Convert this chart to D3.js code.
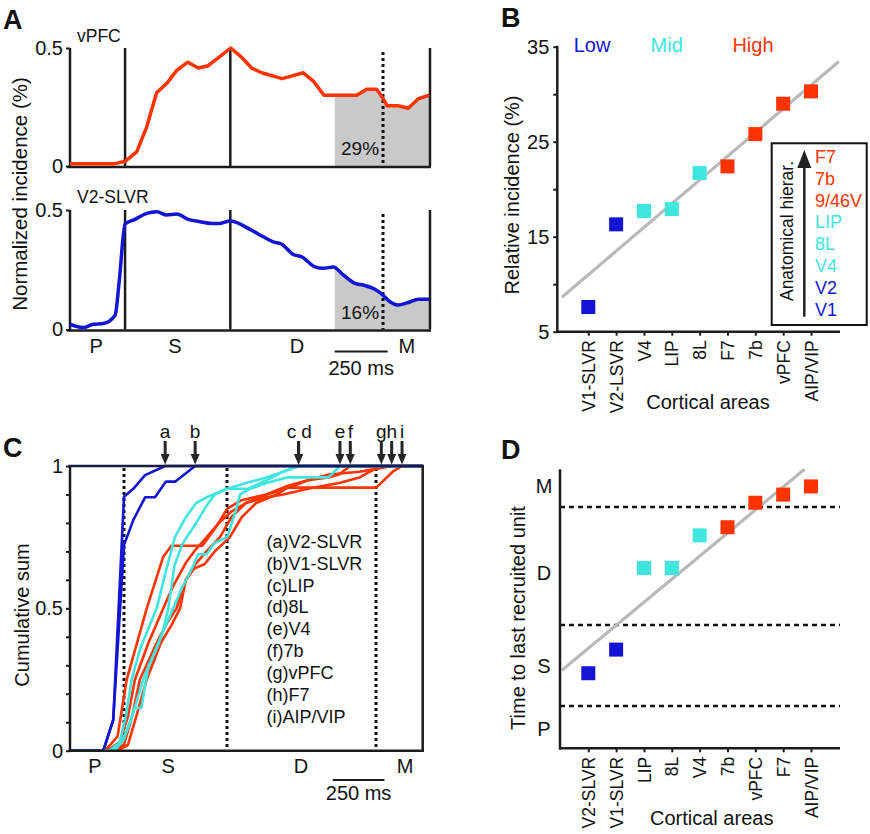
<!DOCTYPE html>
<html><head><meta charset="utf-8">
<script src="https://cdn.jsdelivr.net/npm/d3@7"></script>
<style>
body{margin:0;background:#fff}
svg{display:block}
text{font-family:"Liberation Sans",Arial,Helvetica,sans-serif;fill:#111}
</style></head>
<body><svg id="fig" width="870" height="834"></svg>
<script>
// ---------------- DATA ----------------
const epochNames = ["P","S","D","M"];
const epochBoundaries = [260, 757, 1480];   // ms: sample on, delay on, match on
const trialEnd = 1700;
const lateWindowStart = 1250;

// Panel A
const vpfcTime = [0,213,260,315,362,409,457,504,556,606,653,759,811,858,905,1002,1102,1149,1199,1354,1401,1448,1472,1498,1550,1597,1645,1697];
const vpfcIncidence = [0.01,0.01,0.02,0.06,0.165,0.31,0.35,0.405,0.44,0.415,0.425,0.5,0.46,0.415,0.395,0.37,0.395,0.36,0.3,0.3,0.325,0.325,0.295,0.255,0.255,0.245,0.285,0.3];
const v2Time = [0,63,110,157,213,233,260,307,362,409,457,504,559,614,669,708,756,850,913,960,1000,1054,1094,1157,1196,1243,1291,1346,1385,1440,1472,1511,1550,1597,1645,1697];
const v2Incidence = [0.022,0.008,0.022,0.025,0.06,0.207,0.441,0.461,0.486,0.493,0.479,0.483,0.461,0.451,0.444,0.444,0.454,0.419,0.388,0.367,0.357,0.314,0.304,0.262,0.256,0.262,0.228,0.193,0.186,0.168,0.148,0.116,0.102,0.113,0.127,0.127];
const aPercents = ["29%","16%"];
const aEpochLabelT = [123,496,1072,1591];

// Panel B
const bAreas = ["V1-SLVR","V2-LSVR","V4","LIP","8L","F7","7b","vPFC","AIP/VIP"];
const bGroups = ["low","low","mid","mid","mid","high","high","high","high"];
const bIncidence = [7.6,16.3,17.7,17.9,21.7,22.4,25.8,29.0,30.3];
const bTicks = [5,10,15,20,25,30,35];
const bTickLabels = [5,15,25,35];
const hierAreas = ["F7","7b","9/46V","LIP","8L","V4","V2","V1"];
const hierGroups = ["high","high","high","mid","mid","mid","low","low"];
const groupNames = ["Low","Mid","High"];

// Panel C
const cAreas = ["V2-SLVR","V1-SLVR","LIP","8L","V4","7b","vPFC","F7","AIP/VIP"];
const cLetters = ["a","b","c","d","e","f","g","h","i"];
const cGroups = ["low","low","mid","mid","mid","high","high","high","high"];
const cLastT = [460,605,1105,1105,1305,1355,1505,1555,1605];
const cumV2SLVR = [[0,0],[161,0],[209,0.108],[261,0.892],[306,0.92],[363,0.968],[460,1],[1705,1]];
const cumV1SLVR = [[0,0],[161,0],[209,0.108],[261,0.722],[306,0.81],[363,0.89],[411,0.89],[463,0.945],[508,0.945],[605,1],[1705,1]];
const cumLIP = [[0,0],[190,0],[240,0.03],[270,0.12],[298,0.25],[340,0.36],[419,0.5],[460,0.62],[507,0.75],[560,0.82],[610,0.87],[660,0.89],[693,0.9],[760,0.92],[850,0.94],[950,0.96],[1030,0.98],[1105,1],[1705,1]];
const cum8L = [[0,0],[200,0],[250,0.03],[290,0.1],[311,0.15],[345,0.15],[380,0.3],[420,0.36],[450,0.42],[475,0.5],[505,0.65],[540,0.72],[564,0.75],[610,0.8],[660,0.86],[700,0.9],[757,0.92],[860,0.92],[950,0.95],[1030,0.98],[1105,1],[1705,1]];
const cumV4 = [[0,0],[215,0],[260,0.04],[300,0.12],[354,0.25],[400,0.33],[450,0.42],[499,0.5],[540,0.57],[590,0.64],[620,0.69],[660,0.69],[700,0.73],[760,0.75],[800,0.84],[822,0.9],[870,0.92],[950,0.94],[1050,0.96],[1250,0.96],[1305,1],[1705,1]];
const cum7b = [[0,0],[170,0],[230,0.05],[274,0.25],[371,0.5],[450,0.68],[490,0.72],[640,0.72],[710,0.79],[760,0.85],[830,0.88],[950,0.9],[1000,0.91],[1080,0.93],[1150,0.95],[1250,0.96],[1300,0.97],[1355,1],[1705,1]];
const cumVPFC = [[0,0],[180,0],[240,0.03],[280,0.12],[314,0.25],[380,0.38],[451,0.5],[500,0.58],[560,0.66],[600,0.7],[661,0.75],[720,0.8],[780,0.84],[850,0.87],[950,0.89],[1031,0.9],[1150,0.92],[1300,0.94],[1400,0.96],[1450,0.98],[1505,1],[1705,1]];
const cumF7 = [[0,0],[200,0],[260,0.02],[300,0.12],[338,0.25],[420,0.38],[470,0.45],[515,0.5],[560,0.6],[600,0.65],[660,0.7],[725,0.75],[780,0.82],[850,0.87],[950,0.9],[1050,0.93],[1150,0.95],[1250,0.97],[1400,0.98],[1480,0.99],[1555,1],[1705,1]];
const cumAIPVIP = [[0,0],[230,0],[280,0.02],[320,0.12],[371,0.25],[440,0.38],[490,0.44],[532,0.5],[560,0.6],[600,0.64],[650,0.655],[700,0.7],[773,0.75],[830,0.82],[900,0.87],[1000,0.9],[1050,0.924],[1480,0.924],[1560,0.98],[1605,1],[1705,1]];
const cTicks = [0,0.1,0.2,0.3,0.4,0.5,0.6,0.7,0.8,0.9,1];
const cTickLabels = [0,0.5,1];
const cEpochLabelT = [121,474,1117,1620];

// Panel D
const dAreas = ["V2-SLVR","V1-SLVR","LIP","8L","V4","7b","vPFC","F7","AIP/VIP"];
const dGroups = ["low","low","mid","mid","mid","high","high","high","high"];
const dLastT = [460,605,1105,1105,1305,1355,1505,1555,1605];
const dEpochLabelT = [118,504,1075,1608];

// ---------------- STYLE ----------------
const COL = {low:"#1414d4", mid:"#3ee6de", high:"#ff3300"};
const AX = "#1c1c1c";
const svg = d3.select("#fig");

function panelLetter(t,x,y){
  svg.append("text").attr("x",x).attr("y",y).attr("font-size",27).attr("font-weight","bold").text(t);
}
function styleAxis(g){
  g.select(".domain").remove();
  g.selectAll(".tick line").attr("stroke",AX).attr("stroke-width",2);
  g.selectAll(".tick text").attr("font-size",20).attr("fill","#111");
}
function hline(x1,x2,y,opts={}){
  return svg.append("line").attr("x1",x1).attr("x2",x2).attr("y1",y).attr("y2",y)
    .attr("stroke",opts.c||AX).attr("stroke-width",opts.w||2.5).attr("stroke-dasharray",opts.d||null);
}
function vline(x,y1,y2,opts={}){
  return svg.append("line").attr("x1",x).attr("x2",x).attr("y1",y1).attr("y2",y2)
    .attr("stroke",opts.c||AX).attr("stroke-width",opts.w||2.5).attr("stroke-dasharray",opts.d||null);
}
function regression(vals){
  const n = vals.length, mi = (n-1)/2, mv = d3.mean(vals);
  let sxy=0,sxx=0;
  vals.forEach((v,i)=>{sxy+=(i-mi)*(v-mv); sxx+=(i-mi)*(i-mi);});
  const m = sxy/sxx; return {m, b: mv - m*mi};
}

// ---------------- PANEL A ----------------
panelLetter("A",3,29);
const ax = d3.scaleLinear().domain([0,trialEnd]).range([70,430]);
function drawA(idx, times, vals, yTop, yBot, color, name, nameY, pctY, curve){
  const y = d3.scaleLinear().domain([0,0.5]).range([yBot,yTop]);
  const pts = times.map((t,i)=>[t,vals[i]]);
  const cid = "clipA"+idx;
  svg.append("clipPath").attr("id",cid).append("rect")
    .attr("x",ax(lateWindowStart)).attr("y",yTop-5).attr("width",ax(trialEnd)-ax(lateWindowStart)).attr("height",yBot-yTop+5);
  svg.append("path").datum(pts).attr("clip-path",`url(#${cid})`)
    .attr("d",d3.area().x(d=>ax(d[0])).y0(yBot).y1(d=>y(d[1])).curve(curve))
    .attr("fill","#c9c9c9");
  svg.append("text").attr("x",(ax(lateWindowStart)+ax(epochBoundaries[2]))/2+1).attr("y",pctY)
    .attr("text-anchor","middle").attr("font-size",19).text(aPercents[idx]);
  const g = svg.append("g").attr("transform","translate(70,0)")
    .call(d3.axisLeft(y).tickValues([0,0.5]).tickSize(4).tickPadding(3).tickFormat(d=>d===0?"0":"0.5"));
  styleAxis(g);
  vline(70,yTop,yBot+1);
  hline(67,431,yBot+1);
  vline(ax(epochBoundaries[0]),yTop,yBot);
  vline(ax(epochBoundaries[1]),yTop,yBot);
  vline(ax(trialEnd),yTop,yBot);
  vline(Math.round(ax(epochBoundaries[2])),yTop+4,yBot,{d:"3,3",w:3,c:"#111"});
  svg.append("path").datum(pts)
    .attr("d",d3.line().x(d=>ax(d[0])).y(d=>y(d[1])).curve(curve))
    .attr("fill","none").attr("stroke",color).attr("stroke-width",3.5).attr("stroke-linejoin","round");
  svg.append("text").attr("x",77).attr("y",nameY).attr("font-size",17.5).text(name);
}
drawA(0, vpfcTime, vpfcIncidence, 48, 166, COL.high, "vPFC", 42, 155, d3.curveLinear);
drawA(1, v2Time, v2Incidence, 210, 329.5, COL.low, "V2-SLVR", 203, 319, d3.curveMonotoneX);
epochNames.forEach((e,i)=>{
  svg.append("text").attr("x",ax(aEpochLabelT[i])).attr("y",353).attr("text-anchor","middle").attr("font-size",20).text(e);
});
hline(ax(1250),ax(1500),351.5,{w:2});
svg.append("text").attr("x",(ax(1250)+ax(1500))/2).attr("y",375).attr("text-anchor","middle").attr("font-size",20).text("250 ms");
svg.append("text").attr("transform","translate(19,194) rotate(-90)").attr("text-anchor","middle")
  .attr("dominant-baseline","central").attr("font-size",20.5).text("Normalized incidence (%)");

// ---------------- PANEL B ----------------
panelLetter("B",501,27);
const bx = d3.scalePoint().domain(bAreas).range([588.3,811]);
const bxi = d3.scaleLinear().domain([0,bAreas.length-1]).range([588.3,811]);
const by = d3.scaleLinear().domain([5,35]).range([331.7,46.7]);
{
  const gl = svg.append("g").attr("transform","translate(557.3,0)")
    .call(d3.axisLeft(by).tickValues(bTicks).tickSize(4).tickPadding(4).tickFormat(d=>bTickLabels.includes(d)?d:""));
  styleAxis(gl);
  vline(557.3,by(35)-1,by(5)+1);
  const gb = svg.append("g").attr("transform","translate(0,331.7)")
    .call(d3.axisBottom(bx).tickSize(4).tickSizeOuter(0));
  styleAxis(gb);
  gb.selectAll(".tick text").attr("transform","rotate(-90)").attr("text-anchor","end")
    .attr("x",-8.5).attr("y",0).attr("dy","0.35em").attr("font-size",17.5);
  hline(556,840,331.7);
  const r = regression(bIncidence);
  const i0=-0.95, i1=9.0;
  svg.append("line").attr("x1",bxi(i0)).attr("y1",by(r.b+r.m*i0)).attr("x2",bxi(i1)).attr("y2",by(r.b+r.m*i1))
    .attr("stroke","#b9b9b9").attr("stroke-width",3.2);
  svg.selectAll(".bsq").data(bAreas).enter().append("rect")
    .attr("x",d=>bx(d)-7).attr("y",(d,i)=>by(bIncidence[i])-7).attr("width",14).attr("height",14)
    .attr("fill",(d,i)=>COL[bGroups[i]]);
  const gx=[592,666.7,753];
  groupNames.forEach((g,i)=>{
    svg.append("text").attr("x",gx[i]).attr("y",52).attr("text-anchor","middle").attr("font-size",20)
      .style("fill",COL[["low","mid","high"][i]]).text(g);
  });
  svg.append("rect").attr("x",771.7).attr("y",143.3).attr("width",95).attr("height",181.7)
    .attr("fill","#fff").attr("stroke","#111").attr("stroke-width",2);
  vline(804.3,316.7,164,{w:2.5,c:"#222"});
  svg.append("path").attr("d","M804.3,150 L797.3,168 L811.3,168 Z").attr("fill","#222");
  svg.append("text").attr("transform","translate(787,231) rotate(-90)").attr("text-anchor","middle")
    .attr("dominant-baseline","central").attr("font-size",17.5).text("Anatomical hierar.");
  hierAreas.forEach((a,i)=>{
    svg.append("text").attr("x",815).attr("y",156.7+i*21.9).attr("dominant-baseline","central")
      .attr("font-size",18).style("fill",COL[hierGroups[i]]).text(a);
  });
  svg.append("text").attr("x",708).attr("y",409).attr("text-anchor","middle").attr("font-size",20).text("Cortical areas");
  svg.append("text").attr("transform","translate(512,195) rotate(-90)").attr("text-anchor","middle")
    .attr("dominant-baseline","central").attr("font-size",20).text("Relative incidence (%)");
}

// ---------------- PANEL C ----------------
panelLetter("C",3,457);
const cx = d3.scaleLinear().domain([0,1705]).range([70,422.7]);
const cy = d3.scaleLinear().domain([0,1]).range([750.7,466]);
{
  const curves = [cumV2SLVR,cumV1SLVR,cumLIP,cum8L,cumV4,cum7b,cumVPFC,cumF7,cumAIPVIP];
  const gl = svg.append("g").attr("transform","translate(70,0)")
    .call(d3.axisLeft(cy).tickValues(cTicks).tickSize(4).tickPadding(3).tickFormat(d=>cTickLabels.includes(d)?String(d):""));
  styleAxis(gl);
  epochBoundaries.forEach(t=>vline(Math.round(cx(t)),468,750,{d:"3,3",w:3,c:"#111"}));
  const line = d3.line().x(d=>cx(d[0])).y(d=>cy(d[1]));
  for(let i=curves.length-1;i>=0;i--){
    svg.append("path").datum(curves[i]).attr("d",line).attr("fill","none")
      .attr("stroke",COL[cGroups[i]]).attr("stroke-width",2.6).attr("stroke-linejoin","round");
  }
  vline(70,466,751.5);
  hline(68.5,424,750.7);
  hline(68.5,424,466,{c:"#1c1c3c"});
  vline(422.7,466,751.5);
  const cLabelDx = [0,0,-7,8,0,0,0,0,0];
  cLastT.forEach((t,i)=>{
    const x = cx(t);
    vline(x,441,456,{w:3,c:"#262626"});
    svg.append("path").attr("d",`M${x-4.5},454 L${x+4.5},454 L${x},464.5 Z`).attr("fill","#262626");
    svg.append("text").attr("x",x+cLabelDx[i]).attr("y",438).attr("text-anchor","middle").attr("font-size",19).text(cLetters[i]);
  });
  cAreas.forEach((a,i)=>{
    svg.append("text").attr("x",266.5).attr("y",541.7+i*21.9).attr("dominant-baseline","central")
      .attr("font-size",18).text(`(${cLetters[i]})${a}`);
  });
  epochNames.forEach((e,i)=>{
    svg.append("text").attr("x",cx(cEpochLabelT[i])).attr("y",773).attr("text-anchor","middle").attr("font-size",20).text(e);
  });
  hline(cx(1270),cx(1520),780,{w:2});
  svg.append("text").attr("x",(cx(1270)+cx(1520))/2).attr("y",800).attr("text-anchor","middle").attr("font-size",20).text("250 ms");
  svg.append("text").attr("transform","translate(22,615) rotate(-90)").attr("text-anchor","middle")
    .attr("dominant-baseline","central").attr("font-size",20).text("Cumulative sum");
}

// ---------------- PANEL D ----------------
panelLetter("D",501,459);
const dx = d3.scalePoint().domain(dAreas).range([588.3,811]);
const dxi = d3.scaleLinear().domain([0,dAreas.length-1]).range([588.3,811]);
const dy = d3.scaleLinear().domain([0,1710]).range([748.3,469.3]);
{
  epochBoundaries.forEach(t=>hline(560,840,Math.round(dy(t)),{d:"5,4",w:2.6,c:"#111"}));
  const r = regression(dLastT);
  const i0=-0.95, i1=(1710-r.b)/r.m;
  svg.append("line").attr("x1",dxi(i0)).attr("y1",dy(r.b+r.m*i0)).attr("x2",dxi(i1)).attr("y2",dy(r.b+r.m*i1))
    .attr("stroke","#b9b9b9").attr("stroke-width",3.2);
  svg.selectAll(".dsq").data(dAreas).enter().append("rect")
    .attr("x",d=>dx(d)-7).attr("y",(d,i)=>dy(dLastT[i])-7).attr("width",14).attr("height",14)
    .attr("fill",(d,i)=>COL[dGroups[i]]);
  const gb = svg.append("g").attr("transform","translate(0,748.3)")
    .call(d3.axisBottom(dx).tickSize(4).tickSizeOuter(0));
  styleAxis(gb);
  gb.selectAll(".tick text").attr("transform","rotate(-90)").attr("text-anchor","end")
    .attr("x",-8.5).attr("y",0).attr("dy","0.35em").attr("font-size",17.5);
  vline(560,469.3,749.5);
  hline(559,840,748.3);
  epochNames.forEach((e,i)=>{
    svg.append("text").attr("x",544).attr("y",dy(dEpochLabelT[i])).attr("text-anchor","middle")
      .attr("dominant-baseline","central").attr("font-size",20).text(e);
  });
  svg.append("text").attr("x",711.7).attr("y",825).attr("text-anchor","middle").attr("font-size",20).text("Cortical areas");
  svg.append("text").attr("transform","translate(517.5,618) rotate(-90)").attr("text-anchor","middle")
    .attr("dominant-baseline","central").attr("font-size",20).text("Time to last recruited unit");
}
</script></body></html>
